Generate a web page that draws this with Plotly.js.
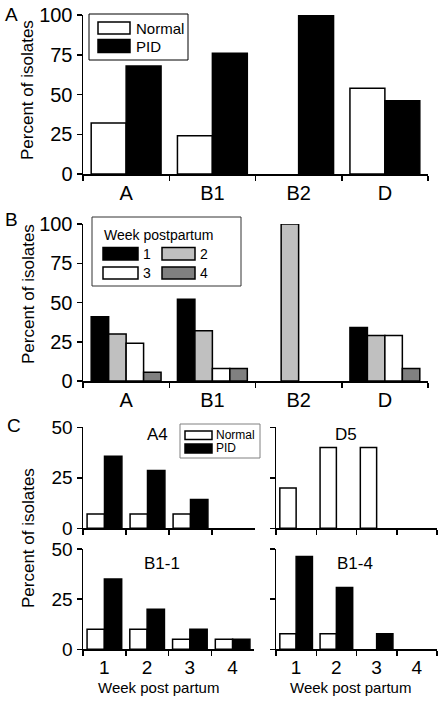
<!DOCTYPE html>
<html><head><meta charset="utf-8">
<script src="https://cdn.plot.ly/plotly-3.0.1.min.js"></script>
<style>html,body{margin:0;padding:0;background:#fff}#chart{width:442px;height:702px}</style>
</head><body><div id="chart"></div>
<script>
// ---------- Panel A ----------
const groupsA = ['A', 'B1', 'B2', 'D'];
const normalA = [32, 24, 0, 54];
const pidA = [68, 76, 100, 46];
// ---------- Panel B ----------
const groupsB = ['A', 'B1', 'B2', 'D'];
const week1B = [41, 52, 0, 34];
const week2B = [30, 32, 100, 29];
const week3B = [24, 8, 0, 29];
const week4B = [5.5, 8, 0, 8];
// ---------- Panel C ----------
const weeksC = ['1', '2', '3', '4'];
const a4Normal = [7.1, 7.1, 7.1, 0];
const a4PID = [35.7, 28.6, 14.3, 0];
const d5Normal = [20, 40, 40, 0];
const d5PID = [0, 0, 0, 0];
const b11Normal = [10, 10, 5, 5];
const b11PID = [35, 20, 10, 5];
const b14Normal = [7.7, 7.7, 0, 0];
const b14PID = [46.2, 30.8, 7.7, 0];
const yTicksAB = [0, 25, 50, 75, 100];
const yTicksC = [0, 25, 50];

const W = 442, H = 702;
const FONT = 'Liberation Sans, Arial, sans-serif';
const px = v => v / W;
const py = v => 1 - v / H;

function bar(x, y, xa, ya, color, name) {
  // zero-height bars are not drawn in the original figure
  return {type: 'bar', x: x, y: y.map(v => v === 0 ? null : v), xaxis: xa, yaxis: ya, name: name,
    marker: {color: color, line: {color: '#000', width: 1.5}},
    hoverinfo: 'x+y+name', showlegend: false};
}

const data = [
  bar(groupsA, normalA, 'x', 'y', '#ffffff', 'Normal'),
  bar(groupsA, pidA, 'x', 'y', '#000000', 'PID'),
  bar(groupsB, week1B, 'x2', 'y2', '#000000', 'Week 1'),
  bar(groupsB, week2B, 'x2', 'y2', '#c0c0c0', 'Week 2'),
  bar(groupsB, week3B, 'x2', 'y2', '#ffffff', 'Week 3'),
  bar(groupsB, week4B, 'x2', 'y2', '#808080', 'Week 4'),
  bar(weeksC, a4Normal, 'x3', 'y3', '#ffffff', 'Normal'),
  bar(weeksC, a4PID, 'x3', 'y3', '#000000', 'PID'),
  bar(weeksC, d5Normal, 'x4', 'y4', '#ffffff', 'Normal'),
  bar(weeksC, d5PID, 'x4', 'y4', '#000000', 'PID'),
  bar(weeksC, b11Normal, 'x5', 'y5', '#ffffff', 'Normal'),
  bar(weeksC, b11PID, 'x5', 'y5', '#000000', 'PID'),
  bar(weeksC, b14Normal, 'x6', 'y6', '#ffffff', 'Normal'),
  bar(weeksC, b14PID, 'x6', 'y6', '#000000', 'PID')
];

function xax(d0, d1, anchor, showLabels, size) {
  return {domain: [px(d0), px(d1)], anchor: anchor, type: 'category',
    range: [-0.5, 3.5], tickson: 'boundaries', ticks: 'outside', ticklen: 5,
    tickwidth: 1.5, tickcolor: '#000', showline: true, linecolor: '#000', linewidth: 1.5,
    showgrid: false, zeroline: false, showticklabels: showLabels,
    tickfont: {size: size, color: '#000'}, fixedrange: true};
}
function yax(top, bottom, anchor, rng, vals, showLabels, size) {
  return {domain: [py(bottom), py(top)], anchor: anchor, range: rng,
    tickmode: 'array', tickvals: vals, ticks: 'outside', ticklen: 5, tickwidth: 1.5,
    tickcolor: '#000', showline: true, linecolor: '#000', linewidth: 1.5,
    showgrid: false, zeroline: false, showticklabels: showLabels,
    tickfont: {size: size, color: '#000'}, fixedrange: true};
}

const shapes = [];
const annotations = [];
function rect(x0, y0, x1, y1, fill, lc, lw) {
  shapes.push({type: 'rect', xref: 'paper', yref: 'paper',
    x0: px(x0), x1: px(x1), y0: py(y1), y1: py(y0),
    fillcolor: fill, line: {color: lc, width: lw}});
}
function text(t, x, y, size, anchor, angle) {
  annotations.push({text: t, xref: 'paper', yref: 'paper', x: px(x), y: py(y),
    xanchor: anchor || 'left', yanchor: 'middle', showarrow: false, textangle: angle || 0,
    font: {size: size, color: '#000', family: FONT}});
}

// Legend panel A
rect(89, 14, 188, 60, '#ffffff', '#000', 1);
rect(98, 22, 130, 34, '#ffffff', '#000', 1.5);
rect(98, 39.5, 130, 52.5, '#000000', '#000', 1.5);
text('Normal', 134, 28, 15);
text('PID', 134, 46, 15);

// Legend panel B
rect(92, 217, 241, 286, '#ffffff', '#333', 1);
text('Week postpartum', 102, 235, 14);
rect(103, 247.5, 138, 260, '#000000', '#000', 1.5);
text('1', 141, 254, 14);
rect(162, 247.5, 195, 260, '#c0c0c0', '#000', 1.5);
text('2', 198, 254, 14);
rect(103, 267, 138, 279, '#ffffff', '#000', 1.5);
text('3', 141, 273, 14);
rect(162, 267, 195, 279, '#808080', '#000', 1.5);
text('4', 198, 273, 14);

// Legend panel C
rect(180, 424, 260, 458, '#ffffff', '#808080', 1);
rect(185, 431, 212, 439.5, '#ffffff', '#000', 1.5);
rect(185, 444, 212, 453, '#000000', '#000', 1.5);
text('Normal', 214, 435, 12);
text('PID', 214, 448.5, 12);

// Panel letters
text('A', 3, 14, 19);
text('B', 3, 219, 19);
text('C', 5, 425, 19);

// Subplot titles in C
text('A4', 157, 434, 17, 'center');
text('D5', 346, 434, 17, 'center');
text('B1-1', 162, 563, 17, 'center');
text('B1-4', 355, 563, 17, 'center');

// Axis titles
text('Percent of isolates', 28, 90, 17, 'center', -90);
text('Percent of isolates', 28, 294, 17, 'center', -90);
text('Percent of isolates', 28, 538, 17, 'center', -90);
text('Week post partum', 158, 687, 15, 'center');
text('Week post partum', 350, 687, 15, 'center');

const layout = {
  width: W, height: H,
  margin: {l: 0, r: 0, t: 0, b: 0},
  paper_bgcolor: '#fff', plot_bgcolor: 'rgba(0,0,0,0)',
  font: {family: FONT, color: '#000'},
  barmode: 'group', bargap: 0.19, bargroupgap: 0,
  showlegend: false,
  xaxis: xax(83, 428, 'y', true, 20),
  yaxis: yax(15, 174, 'x', [0, 100], yTicksAB, true, 20),
  xaxis2: xax(83, 428, 'y2', true, 20),
  yaxis2: yax(224, 381, 'x2', [0, 100], yTicksAB, true, 20),
  xaxis3: xax(83, 255, 'y3', false, 18),
  yaxis3: yax(427.3, 528.3, 'x3', [0, 50], yTicksC, true, 19),
  xaxis4: xax(276, 437, 'y4', false, 18),
  yaxis4: yax(427.3, 528.3, 'x4', [0, 50], yTicksC, false, 19),
  xaxis5: xax(83, 254, 'y5', true, 19),
  yaxis5: yax(549, 649.3, 'x5', [0, 50], yTicksC, true, 19),
  xaxis6: xax(276, 437, 'y6', true, 19),
  yaxis6: yax(549, 649.3, 'x6', [0, 50], yTicksC, false, 19),
  shapes: shapes,
  annotations: annotations
};

Plotly.newPlot('chart', data, layout, {displayModeBar: false, staticPlot: true});
</script>
</body></html>
